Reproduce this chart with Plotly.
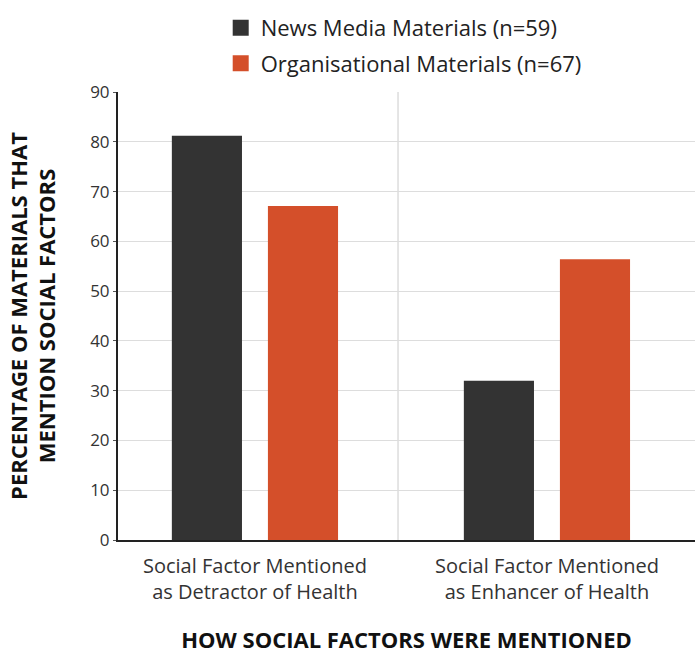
import plotly.graph_objects as go

categories = ["Social Factor Mentioned<br>as Detractor of Health",
              "Social Factor Mentioned<br>as Enhancer of Health"]
series_names = ["News Media Materials (n=59)", "Organisational Materials (n=67)"]
news_values = [81.2, 32.0]
org_values = [67.1, 56.4]
colors = ["#333333", "#d44f2a"]
y_ticks = [0, 10, 20, 30, 40, 50, 60, 70, 80, 90]

FONT = "Open Sans"
fig = go.Figure()
for name, vals, col, lg in zip(series_names, [news_values, org_values], colors, ["a", "b"]):
    fig.add_trace(go.Bar(x=[0, 1], y=vals, name=name, marker_color=col,
                         marker_line_width=0, showlegend=False))
    fig.add_trace(go.Scatter(x=[None], y=[None], mode="markers", name=name,
                             legendgroup=lg,
                             marker=dict(symbol="square", size=18, color=col)))

fig.update_layout(
    width=695, height=654,
    margin=dict(l=118, r=0, t=92, b=114),
    paper_bgcolor="white", plot_bgcolor="white",
    barmode="group", bargap=0.342, bargroupgap=0.27,
    font=dict(family=FONT, color="#222222"),
    legend=dict(x=0.178, y=1.19, xanchor="left", yanchor="top",
                font=dict(size=22, color="#222222"), tracegroupgap=4,
                itemwidth=30),
    xaxis=dict(range=[-0.469, 1.507], tickmode="array", tickvals=[0, 1],
               ticktext=categories, tickfont=dict(size=20, color="#333333"),
               ticklabelstandoff=7,
               showline=True, linecolor="#222222", linewidth=2,
               showgrid=False, zeroline=False, ticks="",
               title=dict(text="<b>HOW SOCIAL FACTORS WERE MENTIONED</b>",
                          font=dict(size=22, color="#111111"), standoff=34)),
    yaxis=dict(range=[0, 90], tickmode="array", tickvals=y_ticks,
               tickfont=dict(size=17, color="#333333"),
               showline=True, linecolor="#222222", linewidth=2,
               showgrid=True, gridcolor="#dddddd", gridwidth=1,
               zeroline=False, ticks="outside", ticklen=3, tickcolor="#555555",
               title=dict(text="<b>PERCENTAGE OF MATERIALS THAT<br>MENTION SOCIAL FACTORS</b>",
                          font=dict(size=22, color="#111111"), standoff=28)),
)
fig.add_shape(type="line", xref="x", yref="paper", x0=0.49, x1=0.49, y0=0, y1=1,
              line=dict(color="#dddddd", width=1.5), layer="below")

fig.write_html("out.html")
